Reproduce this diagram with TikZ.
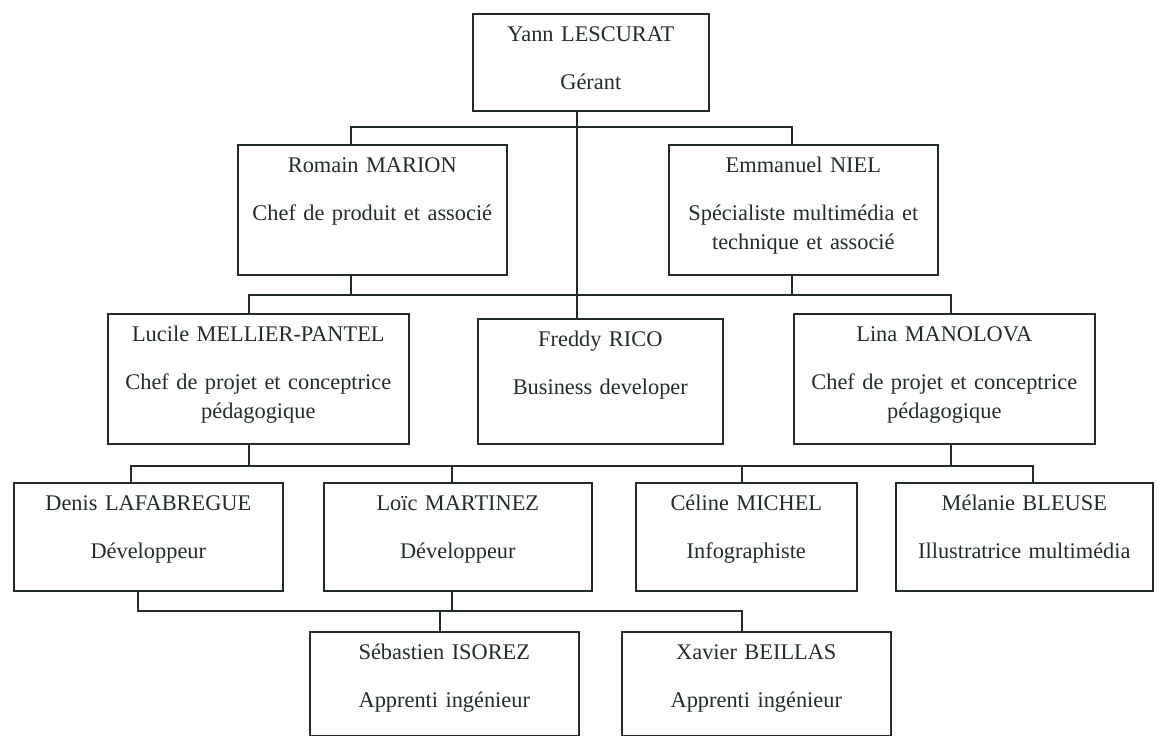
\documentclass[tikz,border=0pt]{standalone}
\usepackage{fontspec}
\setmainfont{Liberation Serif}
\definecolor{ink}{RGB}{34,44,44}

\begin{document}
\begin{tikzpicture}[%
    x=0.025cm, y=-0.025cm,
    post/.style={draw=ink,line width=1.1pt,anchor=north west,inner sep=0pt,
      align=center,text=ink,text height=19.6pt,
      font=\fontsize{15.9}{20.3}\selectfont},
    rowA/.style={text depth=49.4pt},
    rowB/.style={text depth=72.9pt},
    rowC/.style={text depth=69.3pt},
    rowD/.style={text depth=57.3pt},
    rowE/.style={text depth=54.4pt},
    link/.style={draw=ink,line width=1.1pt}
  ]
		\useasboundingbox (0,0) rectangle (1158,736);

		\node at (472,13) [post,rowA,text width=5.9cm] (yann) {Yann LESCURAT\\[14.2pt]Gérant};

		\node at (237,144) [post,rowB,text width=6.725cm] (romain) {Romain MARION\\[14.2pt]Chef de produit et associé};
		\node at (668,144) [post,rowB,text width=6.725cm] (emmanuel) {Emmanuel NIEL\\[14.2pt]Spécialiste multimédia et\\technique et associé};

		\node at (107,313) [post,rowB,text width=7.525cm] (lucile) {Lucile MELLIER-PANTEL\\[14.2pt]Chef de projet et conceptrice\\pédagogique};
		\node at (477,318) [post,rowC,text width=6.125cm] (freddy) {Freddy RICO\\[14.2pt]Business developer};
		\node at (793,313) [post,rowB,text width=7.525cm] (lina) {Lina MANOLOVA\\[14.2pt]Chef de projet et conceptrice\\pédagogique};

		\node at (13,482) [post,rowD,text width=6.725cm] (denis) {Denis LAFABREGUE\\[14.2pt]Développeur};
		\node at (323,482) [post,rowD,text width=6.7cm] (loic) {Loïc MARTINEZ\\[14.2pt]Développeur};
		\node at (635,482) [post,rowD,text width=5.525cm] (celine) {Céline MICHEL\\[14.2pt]Infographiste};
		\node at (895,482) [post,rowD,text width=6.425cm] (melanie) {Mélanie BLEUSE\\[14.2pt]Illustratrice multimédia};

		\node at (309,631) [post,rowE,text width=6.725cm] (sebastien) {Sébastien ISOREZ\\[14.2pt]Apprenti ingénieur};
		\node at (621,631) [post,rowE,text width=6.725cm] (xavier) {Xavier BEILLAS\\[14.2pt]Apprenti ingénieur};

		% bus lines
		\coordinate (j0) at (577,127);
		\coordinate (j1) at (577,295);
		\coordinate (j2) at (600,466);
		\coordinate (j3) at (440,611);

		\draw[link] (yann.south -| j0) -- (freddy.north -| j0);
		\draw[link] (romain.north -| 351,0) |- (j0) -| (emmanuel.north -| 792,0);

		\draw[link] (romain.south -| 351,0) |- (j1) -| (emmanuel.south -| 792,0);
		\draw[link] (lucile.north -| 249,0) |- (j1) -| (lina.north -| 951,0);

		\draw[link] (lucile.south -| 249,0) |- (j2) -| (lina.south -| 951,0);
		\draw[link] (denis.north -| 131,0) |- (j2) -| (melanie.north -| 1033,0);
		\draw[link] (loic.north -| 452,0) |- (j2);
		\draw[link] (celine.north -| 742,0) |- (j2);

		\draw[link] (denis.south -| 138,0) |- (j3) -| (xavier.north -| 742,0);
		\draw[link] (loic.south -| 452,0) |- (j3);
		\draw[link] (sebastien.north -| j3) -- (j3);
	\end{tikzpicture}
\end{document}
